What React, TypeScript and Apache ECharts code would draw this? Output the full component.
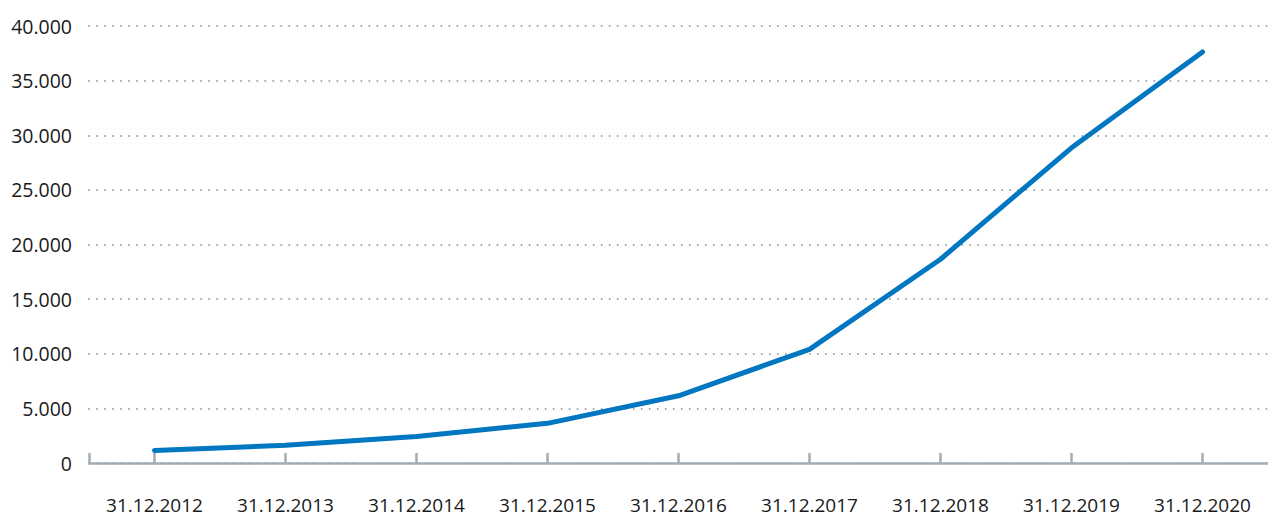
import React, { useEffect, useRef } from "react";
import * as echarts from "echarts";

const categories = [
  "31.12.2012",
  "31.12.2013",
  "31.12.2014",
  "31.12.2015",
  "31.12.2016",
  "31.12.2017",
  "31.12.2018",
  "31.12.2019",
  "31.12.2020",
];
const values = [1150, 1620, 2430, 3630, 6150, 10400, 18650, 28850, 37630];
const yTicks = [0, 5000, 10000, 15000, 20000, 25000, 30000, 35000, 40000];

const fmt = (v: number) => String(v).replace(/\B(?=(\d{3})+(?!\d))/g, ".");

export default function App() {
  const ref = useRef<HTMLDivElement>(null);
  useEffect(() => {
    if (!ref.current) return;
    const chart = echarts.init(ref.current, null, { renderer: "svg" });
    const font = "'Open Sans', 'Noto Sans', sans-serif";
    chart.setOption({
      animation: false,
      grid: { left: 89, right: 0, top: 26, bottom: 53, containLabel: false },
      xAxis: {
        type: "category",
        data: categories,
        boundaryGap: true,
        axisLine: { lineStyle: { color: "#a3acb3", width: 2.5 } },
        axisTick: {
          show: true,
          interval: 0,
          alignWithLabel: true,
          inside: true,
          length: 10,
          lineStyle: { color: "#a3acb3", width: 2.5 },
        },
        axisLabel: {
          color: "#1a1a1a",
          fontSize: 19,
          fontFamily: font,
          margin: 32,
          interval: 0,
        },
        splitLine: { show: false },
      },
      yAxis: {
        type: "value",
        min: yTicks[0],
        max: yTicks[yTicks.length - 1],
        interval: 5000,
        axisLine: { show: false },
        axisTick: { show: false },
        axisLabel: {
          color: "#1a1a1a",
          fontSize: 19.5,
          fontFamily: font,
          margin: 17,
          formatter: (v: number) => fmt(v),
        },
        splitLine: {
          show: true,
          lineStyle: { color: "#9aa5ad", width: 2, type: [0.01, 8], cap: "round" },
        },
      },
      series: [
        {
          type: "line",
          data: values,
          symbol: "none",
          lineStyle: { color: "#0077c0", width: 5, cap: "round", join: "round" },
        },
      ],
    });
    const p = chart.convertToPixel({ gridIndex: 0 }, [0, 0]) as number[];
    chart.setOption({
      graphic: [
        {
          type: "line",
          shape: { x1: 89.5, y1: p[1] - 10, x2: 89.5, y2: p[1] },
          style: { stroke: "#a3acb3", lineWidth: 2.5 },
        },
      ],
    });
    return () => chart.dispose();
  }, []);
  return (
    <div
      ref={ref}
      style={{ position: "absolute", left: 0, top: 0, width: 1268, height: 516 }}
    />
  );
}
